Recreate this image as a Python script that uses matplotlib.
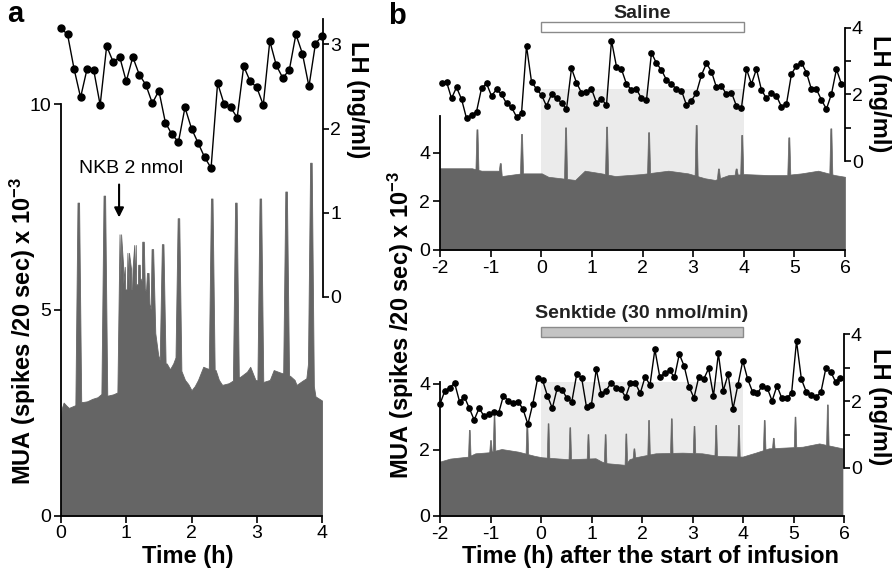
import numpy as np
import matplotlib
matplotlib.use("Agg")
import matplotlib.pyplot as plt
from matplotlib.patches import Rectangle

plt.rcParams['font.family'] = ['Liberation Sans', 'DejaVu Sans']
plt.rcParams['axes.unicode_minus'] = False
plt.rcParams['mathtext.fontset'] = 'custom'
plt.rcParams['mathtext.rm'] = 'Liberation Sans:bold'
plt.rcParams['mathtext.bf'] = 'Liberation Sans:bold'
plt.rcParams['mathtext.default'] = 'bf'

# ---------------- Panel a: NKB 2 nmol ----------------
a_lh = [3.19, 3.12, 2.71, 2.37, 2.71, 2.70, 2.28, 2.98, 2.79, 2.85, 2.56, 2.85,
        2.64, 2.52, 2.30, 2.45, 2.07, 1.93, 1.84, 2.25, 2.00, 1.83, 1.66, 1.53,
        2.54, 2.29, 2.25, 2.13, 2.74, 2.56, 2.49, 2.28, 3.04, 2.75, 2.60, 2.70,
        3.12, 2.89, 2.50, 3.01, 3.10]
a_lh_t = np.arange(len(a_lh)) * 0.1

a_base_t = [0.0, 0.01, 0.04, 0.08, 0.12, 0.18, 0.24, 0.32, 0.40, 0.48, 0.56, 0.62,
            0.72, 0.80, 0.87, 0.90, 0.955, 0.98, 1.073, 1.185, 1.216, 1.313, 1.364,
            1.44, 1.49, 1.53, 1.62, 1.67, 1.72, 1.76, 1.85, 1.90, 1.95, 2.00, 2.05,
            2.10, 2.18, 2.24, 2.37, 2.42, 2.47, 2.57, 2.65, 2.75, 2.85, 2.90, 2.98,
            3.10, 3.20, 3.26, 3.36, 3.51, 3.58, 3.61, 3.70, 3.76, 3.80, 3.86, 3.90, 4.00]
a_base_v = [2.30, 2.60, 2.75, 2.68, 2.62, 2.66, 2.70, 2.76, 2.78, 2.84, 2.88, 2.96,
            2.92, 2.95, 3.00, 4.80, 5.65, 5.50, 5.50, 5.65, 5.80, 5.40, 5.10,
            4.50, 3.90, 3.70, 3.70, 3.56, 3.70, 3.87, 3.50, 3.30, 3.20, 3.05, 3.15,
            3.30, 3.62, 3.58, 3.54, 3.30, 3.18, 3.22, 3.30, 3.38, 3.50, 3.62, 3.30,
            3.25, 3.30, 3.54, 3.48, 3.40, 3.30, 3.18, 3.28, 3.34, 3.90, 3.30, 2.90, 2.80]
a_spike_t = [0.265, 0.664, 0.909, 0.965, 1.03, 1.085, 1.134, 1.195, 1.257, 1.33,
             1.40, 1.558, 1.80, 2.31, 2.68, 3.055, 3.45, 3.83]
a_spike_v = [7.61, 7.78, 6.84, 6.05, 6.39, 6.00, 6.58, 6.10, 6.66, 5.90,
             6.48, 6.60, 7.23, 7.71, 7.61, 7.71, 7.88, 8.58]

# ---------------- Panel b, top: saline ----------------
bs_lh = [2.33, 2.38, 1.88, 2.21, 1.86, 1.28, 1.38, 1.48, 2.18, 2.33, 1.95, 2.15,
         2.00, 1.73, 1.61, 1.33, 1.43, 3.45, 2.38, 2.16, 1.98, 1.65, 2.00, 1.88,
         1.75, 1.56, 2.78, 2.35, 2.05, 2.08, 2.16, 1.75, 1.86, 1.68, 3.61, 2.83,
         2.75, 2.31, 2.13, 2.15, 1.88,
         1.83, 3.25, 2.93, 2.73, 2.43, 2.31, 2.15, 2.11, 1.68, 1.81, 2.05, 2.58,
         2.93, 2.68, 2.21, 2.25, 2.00, 2.05, 1.65, 1.60, 2.76, 2.31, 2.76, 2.13,
         1.88, 2.03, 1.95, 1.63, 1.71, 2.61, 2.86, 2.95, 2.65, 2.15, 2.15, 1.83,
         1.56, 2.01, 2.75, 2.31]
bs_lh_t = np.linspace(-1.97, 5.93, len(bs_lh))

bs_base_t = [-2.0, -1.37, -1.18, -0.85, -0.78, -0.39, 0.01, 0.14, 0.67, 0.86, 1.19,
             1.46, 1.98, 2.51, 2.90, 3.23, 3.43, 3.70, 4.02, 4.49, 4.82, 5.14, 5.47,
             5.80, 6.0]
bs_base_v = [3.36, 3.36, 3.26, 3.26, 3.04, 3.15, 3.15, 3.01, 2.88, 3.26, 3.15,
             3.04, 3.12, 3.26, 3.15, 2.95, 2.88, 3.08, 3.12, 3.08, 3.08, 3.15, 3.26,
             3.08, 3.01]
bs_spike_t = [-1.27, -0.81, -0.39, 0.48, 1.29, 2.12, 3.06, 3.50, 3.85, 3.96, 4.89, 5.72]
bs_spike_v = [4.96, 3.57, 4.77, 5.04, 5.07, 4.84, 5.14, 3.35, 3.35, 4.73, 4.63, 5.00]

# ---------------- Panel b, bottom: senktide ----------------
bk_lh = [1.92, 2.31, 2.41, 2.54, 1.99, 2.13, 1.79, 1.44, 1.79, 1.56, 1.62, 1.69,
         1.64, 2.17, 2.01, 1.96, 1.99, 1.76, 1.31, 1.92, 2.69, 2.63, 2.16, 1.79,
         2.39, 2.34, 2.09, 1.99, 2.81, 2.70, 1.82, 1.89, 2.96, 2.21, 2.31, 2.55,
         2.41, 2.37, 2.12, 2.55, 2.54, 2.24, 2.73,
         2.49, 3.55, 2.73, 2.83, 2.93, 2.71, 3.41, 3.05, 2.43, 2.10, 2.73, 2.66,
         2.98, 2.16, 3.43, 2.31, 2.81, 1.77, 2.49, 3.21, 2.66, 2.28, 2.24, 2.46,
         2.40, 2.01, 2.46, 2.09, 2.09, 2.25, 3.80, 2.66, 2.28, 2.19, 2.12, 2.27,
         2.98, 2.88, 2.58, 2.70]
bk_lh_t = np.linspace(-2.0, 5.93, len(bk_lh))

bk_base_t = [-2.0, -1.8, -1.44, -1.3, -1.04, -0.78, -0.45, -0.12, 0.02, 0.55, 1.08,
             1.20, 1.31, 1.67, 1.75, 1.87, 2.27, 2.80, 3.19, 3.52, 3.99, 4.25, 4.51,
             5.18, 5.51, 5.97]
bk_base_v = [1.65, 1.74, 1.80, 1.90, 1.93, 2.03, 1.95, 1.82, 1.78, 1.72, 1.75,
             1.65, 1.60, 1.55, 1.72, 1.78, 1.90, 1.92, 1.90, 1.82, 1.80, 1.92, 2.05,
             2.10, 2.20, 2.05]
bk_spike_t = [-1.42, -1.0, -0.93, -0.28, 0.14, 0.57, 0.93, 1.27, 1.68, 1.84, 2.13,
              2.58, 3.03, 3.46, 3.91, 4.42, 4.60, 5.03, 5.67]
bk_spike_v = [2.61, 2.30, 3.04, 2.84, 2.81, 2.69, 2.48, 2.48, 2.50, 2.05, 2.91,
              2.96, 2.73, 2.76, 2.76, 2.91, 2.37, 3.01, 3.38]

MUA_COLOR = '#656565'
SHADE = '#ebebeb'
W, H = 894, 572


def box(x0, y0, x1, y1):
    """Figure fraction rectangle from pixel corners (y measured from top)."""
    return [x0 / W, 1 - y1 / H, (x1 - x0) / W, (y1 - y0) / H]


def mua_trace(bt, bv, st, sv, hb, ht):
    bt = np.asarray(bt, float)
    bv = np.asarray(bv, float)
    keep = np.ones(len(bt), bool)
    for s in st:
        keep &= ~((bt > s - hb) & (bt < s + hb))
    t = list(bt[keep])
    v = list(bv[keep])
    for s, p in zip(st, sv):
        for dt, val in ((-hb, None), (-ht, p), (ht, p), (hb, None)):
            tt = s + dt
            t.append(tt)
            v.append(float(np.interp(tt, bt, bv)) if val is None else val)
    t = np.array(t)
    v = np.array(v)
    o = np.argsort(t, kind='stable')
    return t[o], v[o]


def style_mua(ax, xlim, ylim, yticks, xticks):
    ax.set_xlim(*xlim)
    ax.set_ylim(*ylim)
    for s in ('top', 'right'):
        ax.spines[s].set_visible(False)
    for s in ('left', 'bottom'):
        ax.spines[s].set_linewidth(1.3)
    ax.set_yticks(yticks)
    ax.set_xticks(xticks)
    ax.tick_params(direction='out', length=5, width=1.2, labelsize=14, pad=2)


def style_lh(ax, xlim, ylim, yticks, labels):
    ax.set_xlim(*xlim)
    ax.set_ylim(*ylim)
    ax.patch.set_visible(False)
    for s in ('top', 'left', 'bottom'):
        ax.spines[s].set_visible(False)
    ax.spines['right'].set_linewidth(1.3)
    ax.set_xticks([])
    ax.yaxis.tick_right()
    ax.set_yticks(yticks)
    ax.set_yticklabels(labels)
    ax.tick_params(direction='out', length=4, width=1.2, labelsize=14, pad=1)


fig = plt.figure(figsize=(8.94, 5.72), dpi=100)

# ----- panel a -----
axa = fig.add_axes(box(61, 104.3, 322, 515.7))
style_mua(axa, (0, 4), (0, 10), [0, 5, 10], [0, 1, 2, 3, 4])
t, v = mua_trace(a_base_t, a_base_v, a_spike_t, a_spike_v, 0.045, 0.012)
axa.fill_between(t, 0, v, color=MUA_COLOR, lw=0.6, edgecolor=MUA_COLOR, zorder=2)
axa.annotate('', xy=(0.89, 7.25), xytext=(0.89, 8.05),
             arrowprops=dict(arrowstyle='-|>', color='black', lw=1.5,
                             mutation_scale=14, shrinkA=0, shrinkB=0))
axa.text(1.08, 8.44, 'NKB 2 nmol', ha='center', va='center', fontsize=14)

axa_lh = fig.add_axes(box(61, 296.7 - 3.3 * 84.1, 322, 296.7))
style_lh(axa_lh, (0, 4), (0, 3.3), [0, 1, 2, 3], ['0', '1', '2', '3'])
axa_lh.spines['right'].set_position(('outward', 1))
axa_lh.plot(a_lh_t, a_lh, '-o', color='black', lw=1.0, ms=5, clip_on=False)

# ----- panel b, top -----
axb = fig.add_axes(box(440, 250 - 5.5 * 24.33, 845, 250))
style_mua(axb, (-2, 6), (0, 5.5), [0, 2, 4], list(range(-2, 7)))
axb.add_patch(Rectangle((0, 0), 4, 6.6, facecolor=SHADE, edgecolor='none',
                        clip_on=False, zorder=0.5))
t, v = mua_trace(bs_base_t, bs_base_v, bs_spike_t, bs_spike_v, 0.03, 0.010)
axb.fill_between(t, 0, v, color=MUA_COLOR, lw=0.5, edgecolor=MUA_COLOR, zorder=2)

axb_lh = fig.add_axes(box(440, 161 - 4 * 33.33, 845, 161))
style_lh(axb_lh, (-2, 6), (0, 4), [0, 1, 2, 3, 4], ['0', '', '2', '', '4'])
axb_lh.plot(bs_lh_t, bs_lh, '-o', color='black', lw=1.0, ms=3.8, clip_on=False)
axb_lh.add_patch(Rectangle((0, 3.86), 4, 0.30, facecolor='white',
                           edgecolor='#8a8a8a', lw=1.0, clip_on=False))
axb_lh.text(2, 4.43, 'Saline', ha='center', va='center', fontsize=14,
            fontweight='bold', color='#222222')

# ----- panel b, bottom -----
axc = fig.add_axes(box(440, 516 - 4.07 * 33, 844, 516))
style_mua(axc, (-2, 6), (0, 4.07), [0, 2, 4], list(range(-2, 7)))
axc.add_patch(Rectangle((0, 0), 4, 4.07, facecolor=SHADE, edgecolor='none',
                        clip_on=False, zorder=0.5))
t, v = mua_trace(bk_base_t, bk_base_v, bk_spike_t, bk_spike_v, 0.025, 0.008)
axc.fill_between(t, 0, v, color=MUA_COLOR, lw=0.5, edgecolor=MUA_COLOR, zorder=2)

axc_lh = fig.add_axes(box(440, 468 - 4 * 33.4, 844, 468))
style_lh(axc_lh, (-2, 6), (0, 4), [0, 1, 2, 3, 4], ['0', '', '2', '', '4'])
axc_lh.plot(bk_lh_t, bk_lh, '-o', color='black', lw=1.0, ms=3.8, clip_on=False)
axc_lh.add_patch(Rectangle((0, 3.93), 4, 0.30, facecolor='#c4c4c4',
                           edgecolor='#8a8a8a', lw=1.0, clip_on=False))
axc_lh.text(2, 4.64, 'Senktide (30 nmol/min)', ha='center', va='center',
            fontsize=14, fontweight='bold', color='#222222')

# ----- labels -----
def ftext(x, y, s, **kw):
    fig.text(x / W, 1 - y / H, s, **kw)

ftext(15, 14, 'a', fontsize=21, fontweight='bold', ha='center', va='center')
ftext(397, 16, 'b', fontsize=21, fontweight='bold', ha='center', va='center')
ftext(188, 556, 'Time (h)', fontsize=17, fontweight='bold', ha='center', va='center')
ftext(650, 556, 'Time (h) after the start of infusion', fontsize=17,
      fontweight='bold', ha='center', va='center')
ylab = r'MUA (spikes /20 sec) x 10$^{-3}$'
ftext(23, 331, ylab, fontsize=17, fontweight='bold', rotation=90,
      ha='center', va='center')
ftext(401, 325, ylab, fontsize=17, fontweight='bold', rotation=90,
      ha='center', va='center')
for (x, y) in ((357, 100), (880, 94), (880, 407)):
    ftext(x, y, 'LH (ng/ml)', fontsize=17, fontweight='bold', rotation=270,
          ha='center', va='center')

fig.savefig('out.png', dpi=100)
